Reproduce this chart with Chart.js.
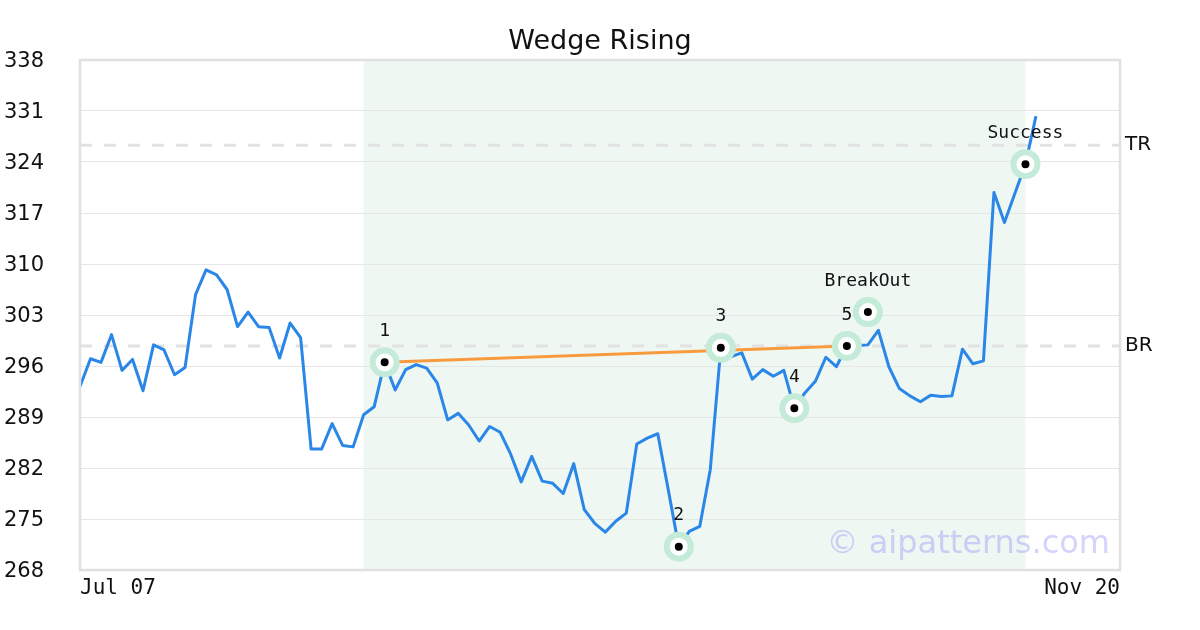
<!DOCTYPE html>
<html>
<head>
<meta charset="utf-8">
<title>Wedge Rising</title>
<script src="https://cdn.jsdelivr.net/npm/chart.js@4/dist/chart.umd.min.js"></script>
<style>
body { margin: 0; background: #fff; }
</style>
</head>
<body>
<canvas id="chart" width="1200" height="630"></canvas>
<script>
const chartTitle = 'Wedge Rising';

// tick labels (first and last day of the window)
const xTickLabels = ['Jul 07', 'Nov 20'];
const dayCount = 100;

// closing prices, one per trading day from Jul 07
const prices = [
    293.2, 297.0, 296.5, 300.3, 295.4, 296.9, 292.6, 298.9, 298.2, 294.8,
    295.8, 305.8, 309.2, 308.5, 306.5, 301.4, 303.4, 301.4, 301.3, 297.1,
    301.9, 299.9, 284.6, 284.6, 288.1, 285.1, 284.9, 289.3, 290.4, 296.5,
    292.7, 295.5, 296.2, 295.7, 293.7, 288.6, 289.5, 287.9, 285.7, 287.7,
    286.9, 283.9, 280.1, 283.6, 280.2, 279.9, 278.5, 282.6, 276.3, 274.4,
    273.2, 274.7, 275.8, 285.3, 286.1, 286.7, 279.0, 271.2, 273.3, 274.0,
    281.8, 298.5, 297.3, 297.8, 294.2, 295.5, 294.6, 295.4, 290.2, 292.3,
    293.9, 297.2, 295.9, 298.75, 298.8, 298.9, 300.9, 295.9, 292.9, 291.9,
    291.1, 292.0, 291.8, 291.9, 298.3, 296.3, 296.7, 319.8, 315.7, 319.7,
    323.7, 330.3
];

// pattern points
const markerNames = ['1', '2', '3', '4', '5', 'BreakOut', 'Success'];
const markerDays = [29, 57, 61, 68, 73, 75, 90];
const markerValues = [296.5, 271.2, 298.5, 290.2, 298.75, 303.4, 323.7];

// wedge line (point 1 to point 5)
const wedgeDays = [29, 73];
const wedgeValues = [296.5, 298.75];

// resistance lines
const levelNames = ['TR', 'BR'];
const levelValues = [326.3, 298.75];

// shaded pattern window
const patternStart = 27;
const patternEnd = 90;

const yMin = 268;
const yMax = 338;
const yStep = 7;

const priceData = prices.map((v, i) => ({ x: i, y: v }));
const markerData = markerDays.map((d, i) => ({ x: d, y: markerValues[i] }));
const wedgeData = wedgeDays.map((d, i) => ({ x: d, y: wedgeValues[i] }));

const levelSets = levelValues.map(v => ({
    data: [{ x: 0, y: v }, { x: dayCount - 1, y: v }],
    borderColor: '#e2e2e2',
    borderWidth: 3,
    borderDash: [12, 12],
    pointRadius: 0,
    order: 5
}));

const shadePlugin = {
    id: 'shade',
    beforeDraw(chart) {
        const c = chart.ctx;
        const a = chart.chartArea;
        const x = chart.scales.x;
        const x1 = x.getPixelForValue(patternStart);
        const x2 = x.getPixelForValue(patternEnd);
        c.save();
        c.fillStyle = '#eff7f3';
        c.fillRect(x1, a.top, x2 - x1, a.bottom - a.top);
        c.restore();
    }
};

const textPlugin = {
    id: 'texts',
    afterDraw(chart) {
        const c = chart.ctx;
        const a = chart.chartArea;
        const x = chart.scales.x;
        const y = chart.scales.y;
        c.save();

        // frame
        c.strokeStyle = '#e0e0e0';
        c.lineWidth = 2.5;
        c.strokeRect(a.left, a.top, a.right - a.left, a.bottom - a.top);

        // title, centred on the page
        c.fillStyle = '#111';
        c.font = '27px "DejaVu Sans"';
        c.textAlign = 'center';
        c.textBaseline = 'alphabetic';
        c.fillText(chartTitle, chart.width / 2, 49);

        // marker labels
        c.font = '18px "DejaVu Sans Mono"';
        c.textBaseline = 'middle';
        markerNames.forEach((n, i) => {
            c.fillText(n, x.getPixelForValue(markerDays[i]), y.getPixelForValue(markerValues[i]) - 31);
        });

        // level labels
        c.font = '20px "DejaVu Sans"';
        c.textAlign = 'left';
        levelNames.forEach((n, i) => {
            c.fillText(n, a.right + 5, y.getPixelForValue(levelValues[i]));
        });

        // watermark
        c.font = '32px "DejaVu Sans"';
        c.fillStyle = 'rgba(150,150,245,0.42)';
        c.textAlign = 'right';
        c.textBaseline = 'alphabetic';
        c.fillText('\u00a9 aipatterns.com', a.right - 10, a.bottom - 17);

        c.restore();
    }
};

const ctx = document.getElementById('chart');

const chart = new Chart(ctx, {
    type: 'line',
    data: {
        datasets: [
            {
                data: priceData,
                borderColor: '#2a87e8',
                borderWidth: 3,
                borderJoinStyle: 'round',
                pointRadius: 0,
                tension: 0,
                order: 3
            },
            ...levelSets,
            {
                data: wedgeData,
                borderColor: '#f89b3e',
                borderWidth: 3,
                pointRadius: 0,
                order: 2
            },
            {
                data: markerData,
                showLine: false,
                pointRadius: 15,
                pointBackgroundColor: '#c3ebd7',
                pointBorderWidth: 0,
                order: 1
            },
            {
                data: markerData,
                showLine: false,
                pointRadius: 6.5,
                pointBackgroundColor: '#000',
                pointBorderColor: '#fff',
                pointBorderWidth: 5,
                order: 0
            }
        ]
    },
    options: {
        responsive: false,
        animation: false,
        events: [],
        layout: { padding: { left: 0, right: 80, top: 60, bottom: 0 } },
        plugins: {
            legend: { display: false },
            tooltip: { enabled: false },
            title: { display: false }
        },
        scales: {
            x: {
                type: 'linear',
                min: 0,
                max: dayCount - 1,
                afterBuildTicks: s => { s.ticks = [{ value: 0 }, { value: dayCount - 1 }]; },
                afterFit: s => { s.height = 60; },
                grid: { display: false, drawTicks: false },
                border: { display: false },
                ticks: {
                    align: 'inner',
                    padding: 6,
                    color: '#111',
                    font: { family: 'DejaVu Sans Mono', size: 21 },
                    callback: (v) => v === 0 ? xTickLabels[0] : xTickLabels[1]
                }
            },
            y: {
                min: yMin,
                max: yMax,
                afterFit: s => { s.width = 80; },
                grid: { color: '#e6e6e6', lineWidth: 1, drawTicks: false },
                border: { display: false },
                ticks: {
                    stepSize: yStep,
                    padding: 36,
                    labelOffset: 2,
                    color: '#111',
                    font: { family: 'DejaVu Sans', size: 21 }
                }
            }
        }
    },
    plugins: [shadePlugin, textPlugin]
});
</script>
</body>
</html>
